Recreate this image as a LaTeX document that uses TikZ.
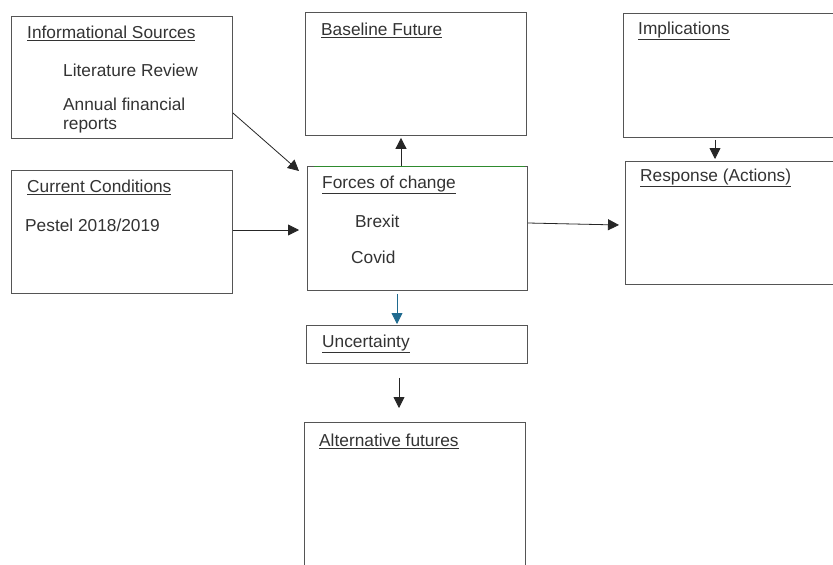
\documentclass[tikz,border=0pt]{standalone}
\usepackage{fontspec}
\setmainfont{Liberation Sans}
\usetikzlibrary{arrows.meta,calc}
\definecolor{txt}{HTML}{333333}
\definecolor{edge}{HTML}{555555}
\definecolor{grn}{HTML}{2E8B2E}
\definecolor{blu}{HTML}{1F6A8F}
\begin{document}
\begin{tikzpicture}[x=1pt,y=-1pt,
  box/.style={draw=edge,line width=0.9pt,rectangle,inner sep=0pt,anchor=north west},
  lbl/.style={anchor=west,inner sep=0pt,text=txt,font=\fontsize{17.3}{19}\selectfont},
  conn/.style={draw=black!85,line width=0.8pt,-{Triangle[length=11pt,width=11pt]}}]
\useasboundingbox[fill=white] (0,0) rectangle (833,565);
% boxes
\node[box,minimum width=221pt,minimum height=122pt] (info) at (11,16) {};
\node[box,minimum width=221pt,minimum height=123pt] (cur) at (11,170) {};
\node[box,minimum width=221pt,minimum height=123pt] (base) at (305,12) {};
\node[box,minimum width=220pt,minimum height=124pt] (force) at (307,166) {};
\node[box,minimum width=221pt,minimum height=38pt] (unc) at (306,325) {};
\node[box,minimum width=221pt,minimum height=150pt] (alt) at (304,422) {};
\node[box,minimum width=215pt,minimum height=124pt] (impl) at (623,13) {};
\node[box,minimum width=213pt,minimum height=123pt] (resp) at (625,161) {};
\draw[grn,line width=1pt] ($(force.north west)+(7,0)$) -- ($(force.north east)+(-3,0)$);
% texts
\node[lbl] (t1) at (27,33) {\underline{Informational Sources}};
\node[lbl] (t2) at (63,70) {Literature Review};
\node[lbl] (t3) at (63,104) {Annual financial};
\node[lbl] (t4) at (63,126) {reports};
\node[lbl] (t5) at (27,187) {\underline{Current Conditions}};
\node[lbl] (t6) at (25,225) {Pestel 2018/2019};
\node[lbl] (t7) at (321,30) {\underline{Baseline Future}};
\node[lbl] (t8) at (322,185) {\underline{Forces of change}};
\node[lbl] (t9) at (355,221) {Brexit};
\node[lbl] (t10) at (351,257) {Covid};
\node[lbl] (t11) at (322,344) {\underline{Uncertainty}};
\node[lbl] (t12) at (319,441) {\underline{Alternative futures}};
\node[lbl] (t13) at (638,31) {\underline{Implications}};
\node[lbl] (t14) at (640,178) {\underline{Response (Actions)}};
% connectors
\coordinate (a1s) at ($(info.north east)+(0,97)$);
\coordinate (a1e) at ($(force.north west)+(-8,5)$);
\draw[conn] (a1s) -- (a1e);
\draw[conn] ($(cur.north east)+(0,60)$) -- ($(force.north west)+(-8,64)$);
\draw[conn] ($(force.north west)+(94,0)$) -- ($(base.south west)+(96,2)$);
\draw[conn] ($(force.north east)+(0,57)$) -- ($(resp.north west)+(-6,64)$);
\draw[conn] ($(impl.south west)+(92,2)$) -- ($(resp.north west)+(90,-2)$);
\draw[conn,draw=blu,-{Triangle[length=11pt,width=11pt]}] ($(force.south west)+(90,3)$) -- ($(unc.north west)+(91,-1)$);
\draw[conn] ($(unc.south west)+(93,14)$) -- ($(alt.north west)+(95,-14)$);
\end{tikzpicture}
\end{document}
